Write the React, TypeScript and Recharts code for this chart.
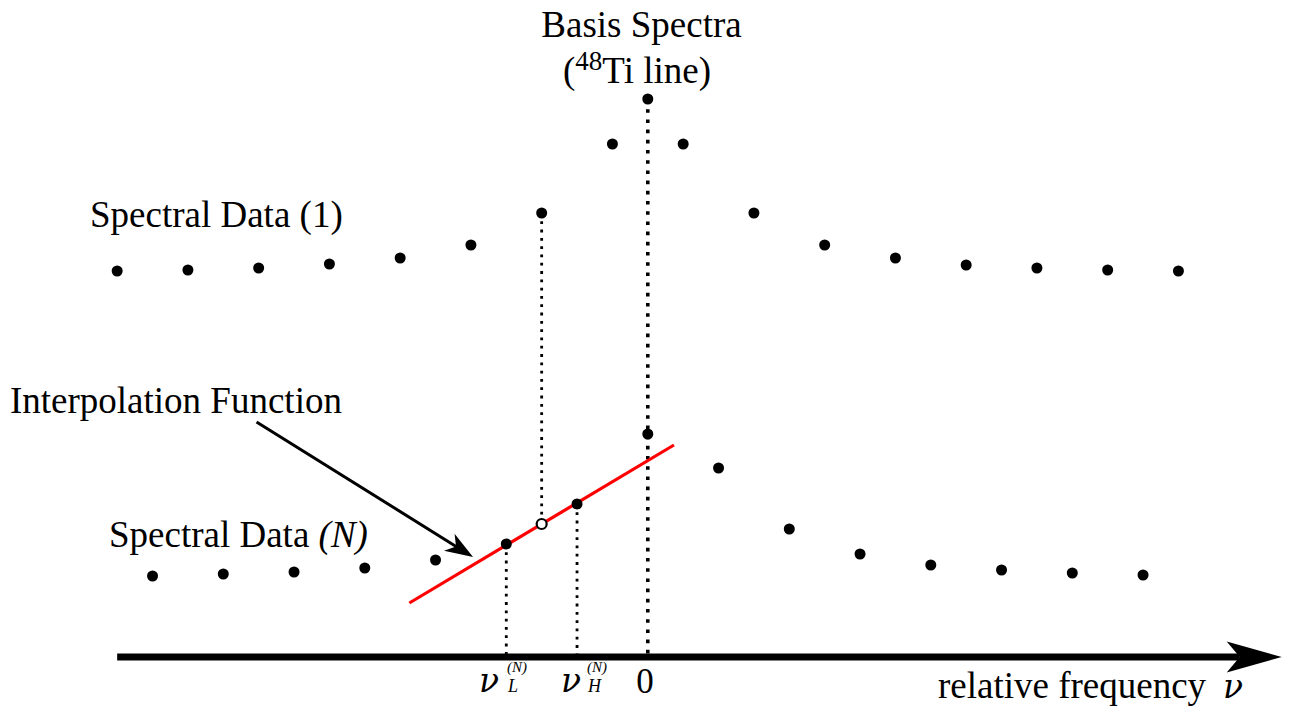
import React from 'react';
import { ScatterChart, Scatter, XAxis, YAxis, ReferenceLine } from 'recharts';

// relative frequency in channel steps (0 = centre of the 48Ti line), intensity in arbitrary units
const freqSpectrum1 = [-7.5, -6.5, -5.5, -4.5, -3.5, -2.5, -1.5, -0.5, 0.5, 1.5, 2.5, 3.5, 4.5, 5.5, 6.5, 7.5];
const intensitySpectrum1 = [386, 387, 389, 393, 399, 412, 444, 513, 513, 444, 412, 399, 392, 389, 387, 386];

const freqBasis = [0];
const intensityBasis = [558];

const freqSpectrumN = [-7, -6, -5, -4, -3, -2, -1, 0, 1, 2, 3, 4, 5, 6, 7];
const intensitySpectrumN = [81, 83, 85, 89, 97, 113, 153, 223, 189, 128, 103, 92, 87, 84, 82];

// red interpolation line (end points) and the interpolated value at the spectrum-1 channel
const freqInterpLine = [-3.37, 0.37];
const intensityInterpLine = [54, 212];
const freqInterpolated = [-1.5];
const intensityInterpolated = [133];

// annotation arrow and frequency axis
const pointerFreq = [-5.53, -2.47];
const pointerIntensity = [235, 100];
const axisFreq = [-7.5, 8.96];

const X_DOMAIN = [-9.156, 9.063];
const Y_DOMAIN = [-56, 657];

const toPoints = (xs: number[], ys: number[]) => xs.map((x, i) => ({ x, y: ys[i] }));

const spectrum1 = toPoints(freqSpectrum1, intensitySpectrum1);
const basis = toPoints(freqBasis, intensityBasis);
const spectrumN = toPoints(freqSpectrumN, intensitySpectrumN);
const interpLine = toPoints(freqInterpLine, intensityInterpLine);
const interpolated = toPoints(freqInterpolated, intensityInterpolated);

const FONT = "'Liberation Serif', 'Times New Roman', serif";
const MATH_FONT = "'DejaVu Serif', serif";

const solidDot = (p: any) => <circle cx={p.cx} cy={p.cy} r={5.5} fill="#000" />;
const openDot = (p: any) => (
  <circle cx={p.cx} cy={p.cy} r={5} fill="#fff" stroke="#000" strokeWidth={2.2} />
);
const noDot = () => <g />;

// line with a concave arrow head at (x2, y2)
const arrowShape = (width: number, len: number, half: number, inset: number) => (p: any) => {
  const { x1, y1, x2, y2 } = p;
  const dx = x2 - x1;
  const dy = y2 - y1;
  const d = Math.hypot(dx, dy) || 1;
  const ux = dx / d;
  const uy = dy / d;
  const bx = x2 - ux * len;
  const by = y2 - uy * len;
  const nx = x2 - ux * (len - inset);
  const ny = y2 - uy * (len - inset);
  return (
    <g>
      <line x1={x1} y1={y1} x2={nx} y2={ny} stroke="#000" strokeWidth={width} />
      <path
        d={`M${x2},${y2} L${bx - uy * half},${by + ux * half} L${nx},${ny} L${bx + uy * half},${by - ux * half} Z`}
        fill="#000"
      />
    </g>
  );
};

export default function App() {
  const i1 = freqSpectrum1.indexOf(freqInterpolated[0]);
  const iL = freqSpectrumN.indexOf(-2);
  const iH = freqSpectrumN.indexOf(-1);

  return (
    <div style={{ position: 'relative', width: 1289, height: 713, background: '#fff' }}>
      <style>{'body { margin: 0; }'}</style>
      <ScatterChart width={1289} height={713} margin={{ top: 0, right: 0, bottom: 0, left: 0 }}>
        <XAxis type="number" dataKey="x" domain={X_DOMAIN} allowDataOverflow hide />
        <YAxis type="number" dataKey="y" domain={Y_DOMAIN} allowDataOverflow hide />

        {/* dotted guides */}
        <ReferenceLine
          segment={[
            { x: freqInterpolated[0], y: intensitySpectrum1[i1] },
            { x: freqInterpolated[0], y: intensityInterpolated[0] },
          ]}
          stroke="#000"
          strokeWidth={2.8}
          strokeDasharray="2.8 5.5"
        />
        <ReferenceLine
          segment={[
            { x: freqBasis[0], y: intensityBasis[0] },
            { x: freqBasis[0], y: 0 },
          ]}
          stroke="#000"
          strokeWidth={3.6}
          strokeDasharray="3.6 6.6"
        />
        <ReferenceLine
          segment={[
            { x: freqSpectrumN[iL], y: intensitySpectrumN[iL] },
            { x: freqSpectrumN[iL], y: 0 },
          ]}
          stroke="#000"
          strokeWidth={2.8}
          strokeDasharray="2.8 5.5"
        />
        <ReferenceLine
          segment={[
            { x: freqSpectrumN[iH], y: intensitySpectrumN[iH] },
            { x: freqSpectrumN[iH], y: 0 },
          ]}
          stroke="#000"
          strokeWidth={2.8}
          strokeDasharray="2.8 5.5"
        />

        {/* frequency axis */}
        <ReferenceLine
          segment={[
            { x: axisFreq[0], y: 0 },
            { x: axisFreq[1], y: 0 },
          ]}
          shape={arrowShape(7, 55, 15.5, 13)}
        />

        {/* pointer to the interpolation function */}
        <ReferenceLine
          segment={[
            { x: pointerFreq[0], y: pointerIntensity[0] },
            { x: pointerFreq[1], y: pointerIntensity[1] },
          ]}
          shape={arrowShape(3, 28, 10, 8)}
        />

        <Scatter
          data={interpLine}
          line={{ stroke: '#ff0000', strokeWidth: 3.2 }}
          shape={noDot}
          isAnimationActive={false}
        />
        <Scatter data={spectrum1} shape={solidDot} isAnimationActive={false} />
        <Scatter data={basis} shape={solidDot} isAnimationActive={false} />
        <Scatter data={spectrumN} shape={solidDot} isAnimationActive={false} />
        <Scatter data={interpolated} shape={openDot} isAnimationActive={false} />
      </ScatterChart>

      <svg
        width={1289}
        height={713}
        style={{ position: 'absolute', left: 0, top: 0, pointerEvents: 'none' }}
        fontFamily={FONT}
        fill="#000"
      >
        <text x={641.5} y={37} fontSize={37} textAnchor="middle">
          Basis Spectra
        </text>
        <text x={637} y={83} fontSize={37} textAnchor="middle">
          (<tspan fontSize={27} dy={-13}>48</tspan>
          <tspan dy={13}>Ti line)</tspan>
        </text>
        <text x={90} y={227} fontSize={37}>
          Spectral Data (1)
        </text>
        <text x={10} y={413} fontSize={37}>
          Interpolation Function
        </text>
        <text x={109} y={547} fontSize={37}>
          Spectral Data <tspan fontStyle="italic">(N)</tspan>
        </text>

        <text x={479} y={692} fontSize={33} fontStyle="italic" fontFamily={MATH_FONT}>
          ν
        </text>
        <text x={508} y={692} fontSize={18} fontStyle="italic">
          L
        </text>
        <text x={507} y={672} fontSize={15} fontStyle="italic">
          (N)
        </text>

        <text x={561} y={692} fontSize={33} fontStyle="italic" fontFamily={MATH_FONT}>
          ν
        </text>
        <text x={588} y={692} fontSize={18} fontStyle="italic">
          H
        </text>
        <text x={587} y={672} fontSize={15} fontStyle="italic">
          (N)
        </text>

        <text x={645} y={693} fontSize={35} textAnchor="middle">
          0
        </text>

        <text x={938} y={698} fontSize={37}>
          relative frequency
        </text>
        <text x={1223} y={698} fontSize={33} fontStyle="italic" fontFamily={MATH_FONT}>
          ν
        </text>
      </svg>
    </div>
  );
}
